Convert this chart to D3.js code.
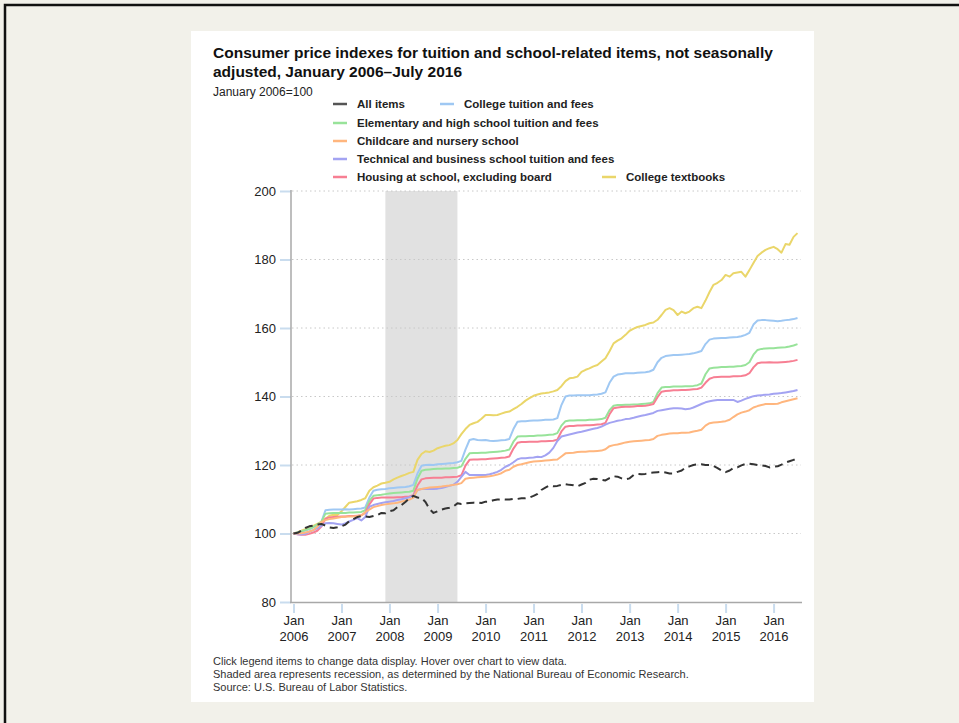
<!DOCTYPE html>
<html>
<head>
<meta charset="utf-8">
<script src="https://cdn.jsdelivr.net/npm/d3@7"></script>
<style>
  html, body { margin: 0; padding: 0; background: #f2f1ea; }
  svg { display: block; }
</style>
</head>
<body>
<script>
// ---------- DATA (monthly, Jan 2006 – Jul 2016, January 2006 = 100) ----------
const startMonth = "2006-01";
const endMonth = "2016-07";

const seriesNames = [
  "All items",
  "College tuition and fees",
  "Elementary and high school tuition and fees",
  "Childcare and nursery school",
  "Technical and business school tuition and fees",
  "Housing at school, excluding board",
  "College textbooks"
];

const allItems = [
100.0,100.2,100.8,101.6,102.1,102.3,102.6,102.8,102.3,101.8,101.6,101.8,
102.1,102.6,103.6,104.2,104.8,105.1,105.0,104.8,105.1,105.4,106.0,105.9,
106.5,106.8,107.7,108.3,109.2,110.3,111.0,110.5,110.4,109.2,107.1,106.0,
106.5,107.0,107.3,107.5,107.9,108.8,108.6,108.8,108.9,109.0,109.1,108.9,
109.3,109.3,109.7,109.9,110.0,109.9,109.9,110.1,110.1,110.3,110.3,110.5,
111.0,111.6,112.7,113.4,114.0,113.8,113.9,114.2,114.4,114.2,114.1,113.8,
114.3,114.8,115.7,116.0,115.9,115.7,115.5,116.2,116.7,116.6,116.1,115.8,
116.1,117.1,117.4,117.3,117.4,117.7,117.8,117.9,118.0,117.8,117.5,117.5,
118.0,118.4,119.2,119.6,120.0,120.2,120.2,120.0,120.0,119.7,119.1,118.4,
117.9,118.4,119.1,119.3,119.9,120.3,120.4,120.2,120.0,119.9,119.7,119.3,
119.5,119.6,120.1,120.7,121.1,121.5,121.6];

const collegeTuition = [
100.0,100.3,100.6,100.9,101.2,101.8,102.5,103.4,106.8,106.9,107.0,107.0,
107.0,107.1,107.0,107.1,107.2,107.3,107.6,110.5,112.5,112.8,112.9,113.0,
113.2,113.3,113.4,113.5,113.6,113.8,114.2,117.5,119.8,120.0,120.1,120.0,
120.2,120.3,120.4,120.5,120.6,120.8,121.2,124.5,127.3,127.6,127.3,127.2,
127.3,127.1,127.0,127.1,127.2,127.3,127.6,130.5,132.6,132.8,132.8,132.9,
133.0,133.0,133.1,133.2,133.2,133.3,133.7,137.5,140.0,140.3,140.3,140.4,
140.4,140.4,140.4,140.5,140.6,140.8,141.2,144.0,145.8,146.4,146.6,146.8,
146.8,146.8,146.9,147.0,147.1,147.3,147.8,150.0,151.3,151.8,152.0,152.1,
152.1,152.2,152.3,152.4,152.6,152.9,153.3,155.3,156.6,156.9,157.0,157.1,
157.1,157.2,157.3,157.4,157.6,158.0,158.6,161.0,162.2,162.3,162.3,162.2,
162.1,162.0,162.1,162.3,162.4,162.6,162.9];

const elementaryHigh = [
100.0,100.3,100.6,101.0,101.4,101.9,102.6,103.4,105.8,105.9,106.0,106.0,
106.0,106.0,106.1,106.1,106.2,106.3,106.8,109.5,111.0,111.2,111.3,111.5,
111.7,111.8,111.9,112.0,112.1,112.2,112.5,116.0,118.3,118.6,118.7,118.8,
118.9,118.9,119.0,119.0,119.1,119.2,119.6,121.8,123.4,123.5,123.5,123.6,
123.6,123.7,123.8,123.9,124.0,124.2,124.5,126.8,128.3,128.4,128.4,128.5,
128.5,128.6,128.6,128.7,128.8,128.9,129.3,131.5,132.8,133.0,133.0,133.1,
133.1,133.1,133.2,133.2,133.3,133.4,133.8,136.0,137.3,137.5,137.5,137.6,
137.6,137.7,137.7,137.8,137.9,138.0,138.4,141.0,142.6,142.8,142.8,142.9,
142.9,142.9,143.0,143.0,143.1,143.3,143.8,146.5,148.2,148.4,148.5,148.6,
148.6,148.7,148.7,148.8,148.9,149.2,150.0,152.2,153.6,153.9,154.0,154.1,
154.1,154.2,154.3,154.4,154.6,154.9,155.3];

const childcare = [
100.0,100.0,100.1,100.3,100.6,101.0,102.0,103.4,103.9,104.2,104.4,104.6,
104.8,104.9,105.0,105.0,105.1,105.3,106.2,107.0,107.7,108.0,108.3,108.5,
108.7,108.8,109.0,109.3,109.6,109.9,110.5,112.7,113.0,113.2,113.4,113.5,
113.6,113.7,113.9,114.0,114.2,114.4,114.7,116.0,116.2,116.3,116.4,116.5,
116.6,116.7,116.9,117.2,117.6,118.3,118.6,119.5,120.0,120.2,120.5,120.8,
121.0,121.1,121.2,121.3,121.4,121.5,121.6,122.5,123.4,123.5,123.6,123.8,
123.9,123.9,124.0,124.0,124.1,124.2,124.6,125.5,125.8,126.0,126.3,126.6,
126.8,126.9,127.0,127.1,127.2,127.3,127.6,128.5,128.8,129.0,129.2,129.3,
129.3,129.4,129.4,129.5,129.8,130.0,130.3,131.5,132.2,132.4,132.5,132.6,
132.8,133.2,134.0,134.8,135.3,135.6,136.0,136.8,137.2,137.5,137.8,137.8,
137.8,137.9,138.3,138.6,138.9,139.2,139.5];

const technicalBusiness = [
100.0,99.8,99.7,99.9,100.5,101.0,101.5,102.2,103.0,103.1,103.0,102.8,
102.6,103.0,103.5,104.0,104.5,103.8,104.8,107.8,108.3,108.6,108.9,109.1,
109.3,109.5,109.8,110.0,110.3,110.6,111.0,112.7,113.0,113.1,113.0,113.0,
113.1,113.3,113.6,113.9,114.2,115.1,116.5,118.0,117.1,117.1,117.1,117.1,
117.1,117.3,117.6,118.0,118.6,119.5,120.0,120.8,121.7,122.0,122.0,122.1,
122.2,122.4,122.3,122.8,123.6,125.0,127.0,128.3,128.6,128.9,129.2,129.5,
129.7,130.0,130.3,130.6,130.8,131.2,131.8,132.3,132.6,132.9,133.1,133.4,
133.5,133.8,134.1,134.4,134.6,134.9,135.2,135.8,136.0,136.2,136.4,136.6,
136.6,136.5,136.3,136.4,136.8,137.3,137.8,138.3,138.6,138.8,139.0,139.0,
139.0,139.0,139.0,138.4,138.8,139.3,139.7,140.1,140.3,140.4,140.5,140.6,
140.8,140.9,141.0,141.2,141.4,141.6,141.9];

const housingAtSchool = [
100.0,99.8,99.6,99.6,99.9,100.3,100.8,102.0,104.3,104.7,104.8,104.9,
105.0,105.0,105.1,105.1,105.2,105.3,106.0,108.5,110.2,110.4,110.5,110.5,
110.5,110.5,110.6,110.6,110.7,110.8,111.2,114.0,115.8,116.1,116.2,116.3,
116.3,116.3,116.4,116.4,116.5,116.6,117.0,119.8,121.5,121.6,121.6,121.7,
121.7,121.8,121.9,122.0,122.1,122.2,122.5,124.8,126.5,126.7,126.7,126.8,
126.8,126.8,126.9,126.9,127.0,127.1,127.4,129.8,131.2,131.4,131.4,131.5,
131.5,131.6,131.6,131.7,131.8,131.9,132.3,134.8,136.6,136.8,136.9,137.0,
137.0,137.1,137.2,137.2,137.3,137.5,137.8,139.8,141.4,141.6,141.7,141.8,
141.8,141.9,141.9,142.0,142.1,142.2,142.6,144.0,145.2,145.6,145.7,145.8,
145.8,145.8,145.9,145.9,146.0,146.2,146.8,148.5,149.7,149.9,149.9,150.0,
149.9,149.9,150.0,150.1,150.2,150.4,150.7];

const collegeTextbooks = [
100.0,100.4,100.8,101.3,101.8,102.2,102.8,103.4,104.3,105.2,105.5,105.4,
106.5,107.8,109.0,109.2,109.4,109.8,110.3,112.5,113.5,114.0,114.6,114.8,
115.1,115.8,116.3,116.8,117.2,117.7,118.0,121.5,123.2,124.0,123.8,124.2,
124.9,125.3,125.6,125.8,126.3,127.3,129.0,130.5,131.7,132.2,132.6,133.5,
134.6,134.6,134.5,134.6,135.0,135.4,135.6,136.3,137.0,137.8,138.8,139.5,
140.2,140.6,140.9,141.0,141.2,141.5,141.9,143.0,144.5,145.3,145.5,145.8,
147.2,147.8,148.2,148.8,149.2,150.2,151.2,153.2,155.5,156.3,157.0,158.0,
159.2,159.8,160.3,160.6,160.9,161.4,161.6,162.4,163.8,165.3,165.8,165.2,
163.8,164.8,164.3,164.8,165.8,166.2,165.8,168.0,170.5,172.6,173.2,174.0,
175.5,175.0,176.0,176.2,176.4,175.0,176.9,179.0,181.0,182.0,182.8,183.3,
183.7,183.0,182.0,184.5,184.3,186.6,187.7];

const seriesColors = ["#333333", "#9fc8f3", "#98e39a", "#ffb67e", "#a3a3f2", "#f77f93", "#ead66a"];

const recession = ["2007-12", "2009-06"];
const yTicks = [80, 100, 120, 140, 160, 180, 200];
const xTickYears = [2006, 2007, 2008, 2009, 2010, 2011, 2012, 2013, 2014, 2015, 2016];

const titleLines = [
  "Consumer price indexes for tuition and school-related items, not seasonally",
  "adjusted, January 2006\u2013July 2016"
];
const subtitle = "January 2006=100";
const notes = [
  "Click legend items to change data display. Hover over chart to view data.",
  "Shaded area represents recession, as determined by the National Bureau of Economic Research.",
  "Source: U.S. Bureau of Labor Statistics."
];

// ---------- BUILD ----------
const parseM = d3.timeParse("%Y-%m");
const months = d3.timeMonth.range(parseM(startMonth), d3.timeMonth.offset(parseM(endMonth), 1));
const seriesValues = [allItems, collegeTuition, elementaryHigh, childcare, technicalBusiness, housingAtSchool, collegeTextbooks];
const series = seriesNames.map((name, i) => ({
  name, color: seriesColors[i],
  values: seriesValues[i].map((v, j) => ({ date: months[j], value: v }))
}));

const W = 959, H = 723;
const svg = d3.select("body").append("svg").attr("width", W).attr("height", H);

// page background & frame
svg.append("rect").attr("width", W).attr("height", H).attr("fill", "#f2f1ea");
svg.append("path").attr("d", `M5,${H + 10} V5 H${W + 10}`)
  .attr("fill", "none").attr("stroke", "#111").attr("stroke-width", 2.5);

// white card
svg.append("rect").attr("x", 191).attr("y", 31).attr("width", 623).attr("height", 671).attr("fill", "#fff");

const FONT = "'Liberation Sans', Arial, sans-serif";

// title
const title = svg.append("text").attr("x", 213).attr("y", 58)
  .attr("font-family", FONT).attr("font-weight", "bold")
  .attr("font-size", 15.5).attr("fill", "#111");
titleLines.forEach((t, i) => title.append("tspan").attr("x", 213).attr("y", 58 + i * 19).text(t));

svg.append("text").attr("x", 213).attr("y", 96)
  .attr("font-family", FONT).attr("font-size", 12).attr("fill", "#222")
  .text(subtitle);

// scales
const x = d3.scaleTime().domain([months[0], months[months.length - 1]]).range([293.5, 797.5]);
const y = d3.scaleLinear().domain([80, 200]).range([602, 191]);

// recession band
svg.append("rect")
  .attr("x", x(parseM(recession[0]))).attr("y", y(200))
  .attr("width", x(parseM(recession[1])) - x(parseM(recession[0])))
  .attr("height", y(80) - y(200)).attr("fill", "#e1e1e1");

// gridlines
svg.append("g").selectAll("line").data(yTicks.filter(d => d > 80)).join("line")
  .attr("x1", 292).attr("x2", 801).attr("y1", d => y(d)).attr("y2", d => y(d))
  .attr("stroke", "#c8c8c8").attr("stroke-width", 1).attr("stroke-dasharray", "1.5,3");

// y axis
const yAxis = svg.append("g").attr("transform", "translate(291,0)")
  .call(d3.axisLeft(y).tickValues(yTicks).tickSize(11).tickPadding(4));
yAxis.select(".domain").remove();
yAxis.selectAll(".tick line").attr("stroke", "#c9dcee").attr("stroke-width", 2);
yAxis.selectAll(".tick text").attr("font-family", FONT).attr("font-size", 13).attr("fill", "#222");

// x axis
const xTickDates = xTickYears.map(yr => new Date(yr, 0, 1));
const xAxis = svg.append("g").attr("transform", "translate(0,602)")
  .call(d3.axisBottom(x).tickValues(xTickDates).tickSize(11).tickFormat(""));
xAxis.select(".domain").remove();
xAxis.selectAll(".tick line").attr("stroke", "#c9dcee").attr("stroke-width", 2).attr("y1", 2);
const xl = xAxis.selectAll(".tick").append("text")
  .attr("font-family", FONT).attr("font-size", 13).attr("fill", "#222").attr("text-anchor", "middle");
xl.append("tspan").attr("x", 0).attr("y", 23).text("Jan");
xl.append("tspan").attr("x", 0).attr("y", 39).text(d => d.getFullYear());

// axis lines
svg.append("line").attr("x1", 291).attr("x2", 291).attr("y1", 190).attr("y2", 603)
  .attr("stroke", "#a8a8a8").attr("stroke-width", 1.5);
svg.append("line").attr("x1", 290).attr("x2", 802).attr("y1", 602.5).attr("y2", 602.5)
  .attr("stroke", "#a8a8a8").attr("stroke-width", 1.5);

// lines
const line = d3.line().x(d => x(d.date)).y(d => y(d.value));
const drawOrder = [6, 1, 2, 5, 4, 3, 0];
svg.append("g").selectAll("path").data(drawOrder.map(i => series[i])).join("path")
  .attr("d", d => line(d.values)).attr("fill", "none")
  .attr("stroke", d => d.color).attr("stroke-width", 2)
  .attr("stroke-linejoin", "round")
  .attr("stroke-dasharray", d => d.name === "All items" ? "8,5" : null);

// legend
const legendPos = [
  { x: 333, y: 104 }, { x: 440, y: 104 },
  { x: 333, y: 123 }, { x: 333, y: 141 }, { x: 333, y: 159 }, { x: 333, y: 177 },
  { x: 602, y: 177 }
];
const lg = svg.append("g").selectAll("g").data(series).join("g")
  .attr("transform", (d, i) => `translate(${legendPos[i].x},${legendPos[i].y})`);
lg.append("line").attr("x1", 0).attr("x2", 14).attr("y1", 0).attr("y2", 0)
  .attr("stroke", d => d.name === "All items" ? "#555" : d.color).attr("stroke-width", 2.5);
lg.append("text").attr("x", 24).attr("y", 4)
  .attr("font-family", FONT).attr("font-size", 11.5).attr("font-weight", "bold").attr("fill", "#222")
  .text(d => d.name);

// notes
svg.append("g").selectAll("text").data(notes).join("text")
  .attr("x", 213).attr("y", (d, i) => 665 + i * 13)
  .attr("font-family", FONT).attr("font-size", 11).attr("fill", "#333")
  .text(d => d);
</script>
</body>
</html>
